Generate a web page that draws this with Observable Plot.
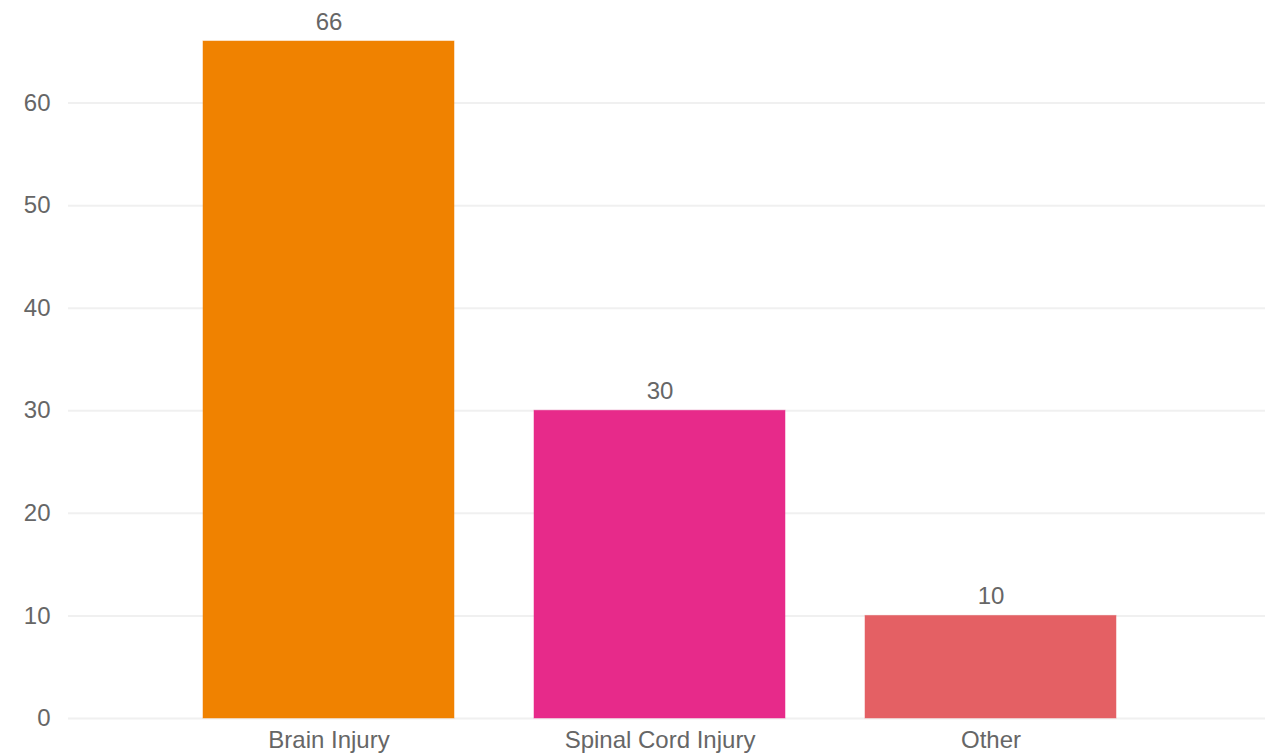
<!DOCTYPE html>
<html>
<head>
<meta charset="utf-8">
<script src="https://cdn.jsdelivr.net/npm/d3@7"></script>
<script src="https://cdn.jsdelivr.net/npm/@observablehq/plot@0.6"></script>
<style>
  html, body { margin: 0; padding: 0; background: #fff; }
  #chart svg { display: block; }
</style>
</head>
<body>
<div id="chart"></div>
<script>
const categories = ["Brain Injury", "Spinal Cord Injury", "Other"];
const values = [66, 30, 10];
const colors = ["#F08200", "#E72A8A", "#E46064"];
const yTicks = [0, 10, 20, 30, 40, 50, 60];

const data = categories.map((c, i) => ({category: c, value: values[i], color: colors[i]}));

const chart = Plot.plot({
  width: 1268,
  height: 756,
  marginTop: 0,
  marginBottom: 38,
  marginLeft: 68,
  marginRight: 3,
  style: {fontFamily: "'Liberation Sans', Arial, sans-serif", fontSize: "24px", color: "#666", background: "#fff"},
  x: {domain: categories, paddingInner: 0.242, paddingOuter: 0.425, align: 0.475, label: null, tickSize: 0, tickPadding: 12},
  y: {domain: [0, 70], ticks: yTicks, label: null, tickSize: 0, tickPadding: 18},
  marks: [
    Plot.ruleY(yTicks, {stroke: "#f0f0f0", strokeWidth: 2}),
    Plot.barY(data, {x: "category", y: "value", fill: "color", stroke: "color", strokeOpacity: 0.5}),
    Plot.text(data, {x: "category", y: "value", text: d => String(d.value), lineAnchor: "bottom", dy: -12, fill: "#666", fontSize: 24}),
    Plot.axisY({ticks: yTicks, tickSize: 0, tickPadding: 18, label: null, fontSize: 24}),
    Plot.axisX({tickSize: 0, tickPadding: 12, label: null, fontSize: 24})
  ]
});
document.getElementById("chart").appendChild(chart);
</script>
</body>
</html>
